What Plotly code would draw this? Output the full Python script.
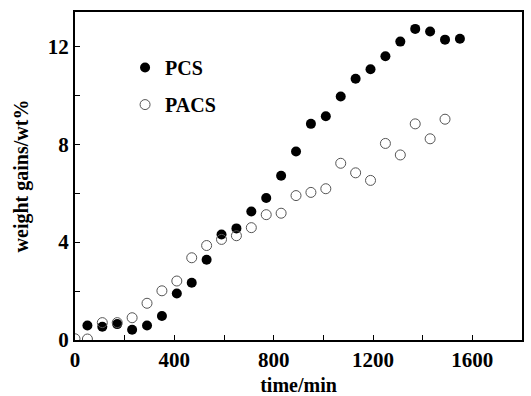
import plotly.graph_objects as go

pcs_time = [50, 110, 170, 230, 290, 350, 410, 470, 530, 590, 650, 710, 770, 830, 890, 950,
            1010, 1070, 1130, 1190, 1250, 1310, 1370, 1430, 1490, 1550]
pcs_gain = [0.59, 0.54, 0.65, 0.42, 0.59, 0.98, 1.90, 2.34, 3.28, 4.31, 4.56, 5.25, 5.80, 6.71,
            7.70, 8.83, 9.14, 9.95, 10.67, 11.06, 11.59, 12.19, 12.71, 12.60, 12.27, 12.31]

pacs_time = [0, 50, 110, 170, 230, 290, 350, 410, 470, 530, 590, 650, 710, 770, 830, 890, 950,
             1010, 1070, 1130, 1190, 1250, 1310, 1370, 1430, 1490]
pacs_gain = [0.05, 0.04, 0.71, 0.71, 0.91, 1.50, 2.01, 2.41, 3.36, 3.86, 4.11, 4.26, 4.59, 5.12,
             5.18, 5.90, 6.03, 6.18, 7.22, 6.83, 6.52, 8.03, 7.56, 8.83, 8.22, 9.02]

x_tickvals = [0, 200, 400, 600, 800, 1000, 1200, 1400, 1600]
x_ticktext = ["0", "", "400", "", "800", "", "1200", "", "1600"]
y_tickvals = [0, 2, 4, 6, 8, 10, 12]
y_ticktext = ["0", "", "4", "", "8", "", "12"]

FONT = "Liberation Serif"
tick_font = dict(family=FONT, size=21, color="black", weight="bold")

fig = go.Figure()
fig.add_trace(go.Scatter(
    x=pcs_time, y=pcs_gain, mode="markers", name="PCS", legendgroup="pcs",
    marker=dict(symbol="circle", size=10, color="black", line=dict(width=0)),
))
fig.add_trace(go.Scatter(
    x=pacs_time, y=pacs_gain, mode="markers", name="PACS", legendgroup="pacs",
    marker=dict(symbol="circle-open", size=10, color="#555555", line=dict(width=1)),
))

axis_common = dict(
    showline=True, linecolor="black", linewidth=2, mirror=True,
    ticks="inside", ticklen=5, tickcolor="black", tickwidth=1,
    showgrid=False, zeroline=False, automargin=False,
    tickfont=tick_font,
)

fig.update_layout(
    width=531, height=396,
    margin=dict(l=75, r=9, t=12, b=56),
    paper_bgcolor="white", plot_bgcolor="white",
    showlegend=True,
    legend=dict(
        x=0.112, y=0.89, xanchor="left", yanchor="top",
        bgcolor="rgba(0,0,0,0)", borderwidth=0,
        font=dict(family=FONT, size=20, color="black", weight="bold"),
        itemsizing="trace", tracegroupgap=8, itemwidth=30,
    ),
    xaxis=dict(
        range=[0, 1800], tickvals=x_tickvals, ticktext=x_ticktext,
        title=dict(text="time/min", font=dict(family=FONT, size=20, color="black", weight="bold"), standoff=8),
        **axis_common,
    ),
    yaxis=dict(
        range=[0, 13.4], tickvals=y_tickvals, ticktext=y_ticktext,
        title=dict(text="weight gains/wt%", font=dict(family=FONT, size=20, color="black", weight="bold"), standoff=14),
        **axis_common,
    ),
)

fig.write_html("out.html", config={"displayModeBar": False},
               post_script="document.body.style.margin='0px';")
